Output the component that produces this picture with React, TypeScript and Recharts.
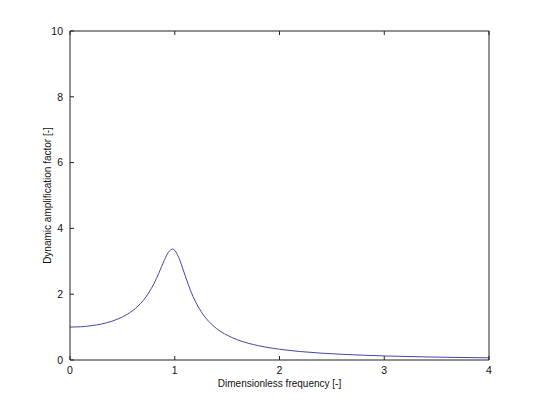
import { Line, LineChart, XAxis, YAxis } from "recharts";

// dimensionless frequency r and dynamic amplification factor
const FREQUENCY = [
  0, 0.1, 0.2, 0.3, 0.4, 0.5, 0.55, 0.6, 0.65, 0.7, 0.75, 0.8, 0.85, 0.9, 0.95, 0.98, 1.0,
  1.05, 1.1, 1.15, 1.2, 1.25, 1.3, 1.4, 1.5, 1.6, 1.7, 1.8, 1.9, 2.0, 2.2, 2.4, 2.6, 2.8,
  3.0, 3.2, 3.4, 3.6, 3.8, 4.0,
];
const AMPLIFICATION = [
  1.0, 1.01, 1.04, 1.094, 1.179, 1.307, 1.395, 1.504, 1.641, 1.813, 2.033, 2.311, 2.654,
  3.029, 3.32, 3.371, 3.333, 3.019, 2.556, 2.118, 1.759, 1.479, 1.262, 0.954, 0.753, 0.613,
  0.511, 0.434, 0.374, 0.327, 0.257, 0.208, 0.172, 0.145, 0.124, 0.108, 0.094, 0.083, 0.074,
  0.066,
];
const X_TICKS = [0, 1, 2, 3, 4];
const Y_TICKS = [0, 2, 4, 6, 8, 10];

const data = FREQUENCY.map((r, i) => ({ r, amp: AMPLIFICATION[i] }));

const FONT = "'Liberation Sans', Arial, sans-serif";
const AXIS_COLOR = "#222";
const tickStyle = { fill: "#111", fontSize: 10.5, fontFamily: FONT };
const titleStyle = { fill: "#111", fontSize: 10, fontFamily: FONT };
const noLabel = () => <g />;

export default function App() {
  return (
    <div style={{ position: "absolute", left: 0, top: 0, background: "#fff" }}>
      <LineChart
        width={540}
        height={405}
        data={data}
        margin={{ top: 30, right: 50, bottom: 15, left: 30 }}
      >
        <XAxis
          xAxisId="b"
          dataKey="r"
          type="number"
          domain={[0, 4]}
          ticks={X_TICKS}
          height={30}
          tickSize={-4}
          tickMargin={11}
          tick={tickStyle}
          stroke={AXIS_COLOR}
          label={{
            value: "Dimensionless frequency [-]",
            position: "insideBottom",
            offset: 3,
            style: titleStyle,
          }}
        />
        <XAxis
          xAxisId="t"
          orientation="top"
          dataKey="r"
          type="number"
          domain={[0, 4]}
          ticks={X_TICKS}
          height={1}
          tickSize={-4}
          tick={noLabel}
          stroke={AXIS_COLOR}
        />
        <YAxis
          yAxisId="l"
          type="number"
          domain={[0, 10]}
          ticks={Y_TICKS}
          width={40}
          tickSize={-4}
          tickMargin={11}
          tick={tickStyle}
          stroke={AXIS_COLOR}
          label={{
            value: "Dynamic amplification factor [-]",
            angle: -90,
            position: "insideLeft",
            offset: 17,
            style: { ...titleStyle, textAnchor: "middle" },
          }}
        />
        <YAxis
          yAxisId="r"
          orientation="right"
          type="number"
          domain={[0, 10]}
          ticks={Y_TICKS}
          width={1}
          tickSize={-4}
          tick={noLabel}
          stroke={AXIS_COLOR}
        />
        <Line
          xAxisId="b"
          yAxisId="l"
          type="monotone"
          dataKey="amp"
          stroke="#4646a6"
          strokeWidth={1}
          dot={false}
          isAnimationActive={false}
        />
      </LineChart>
    </div>
  );
}
